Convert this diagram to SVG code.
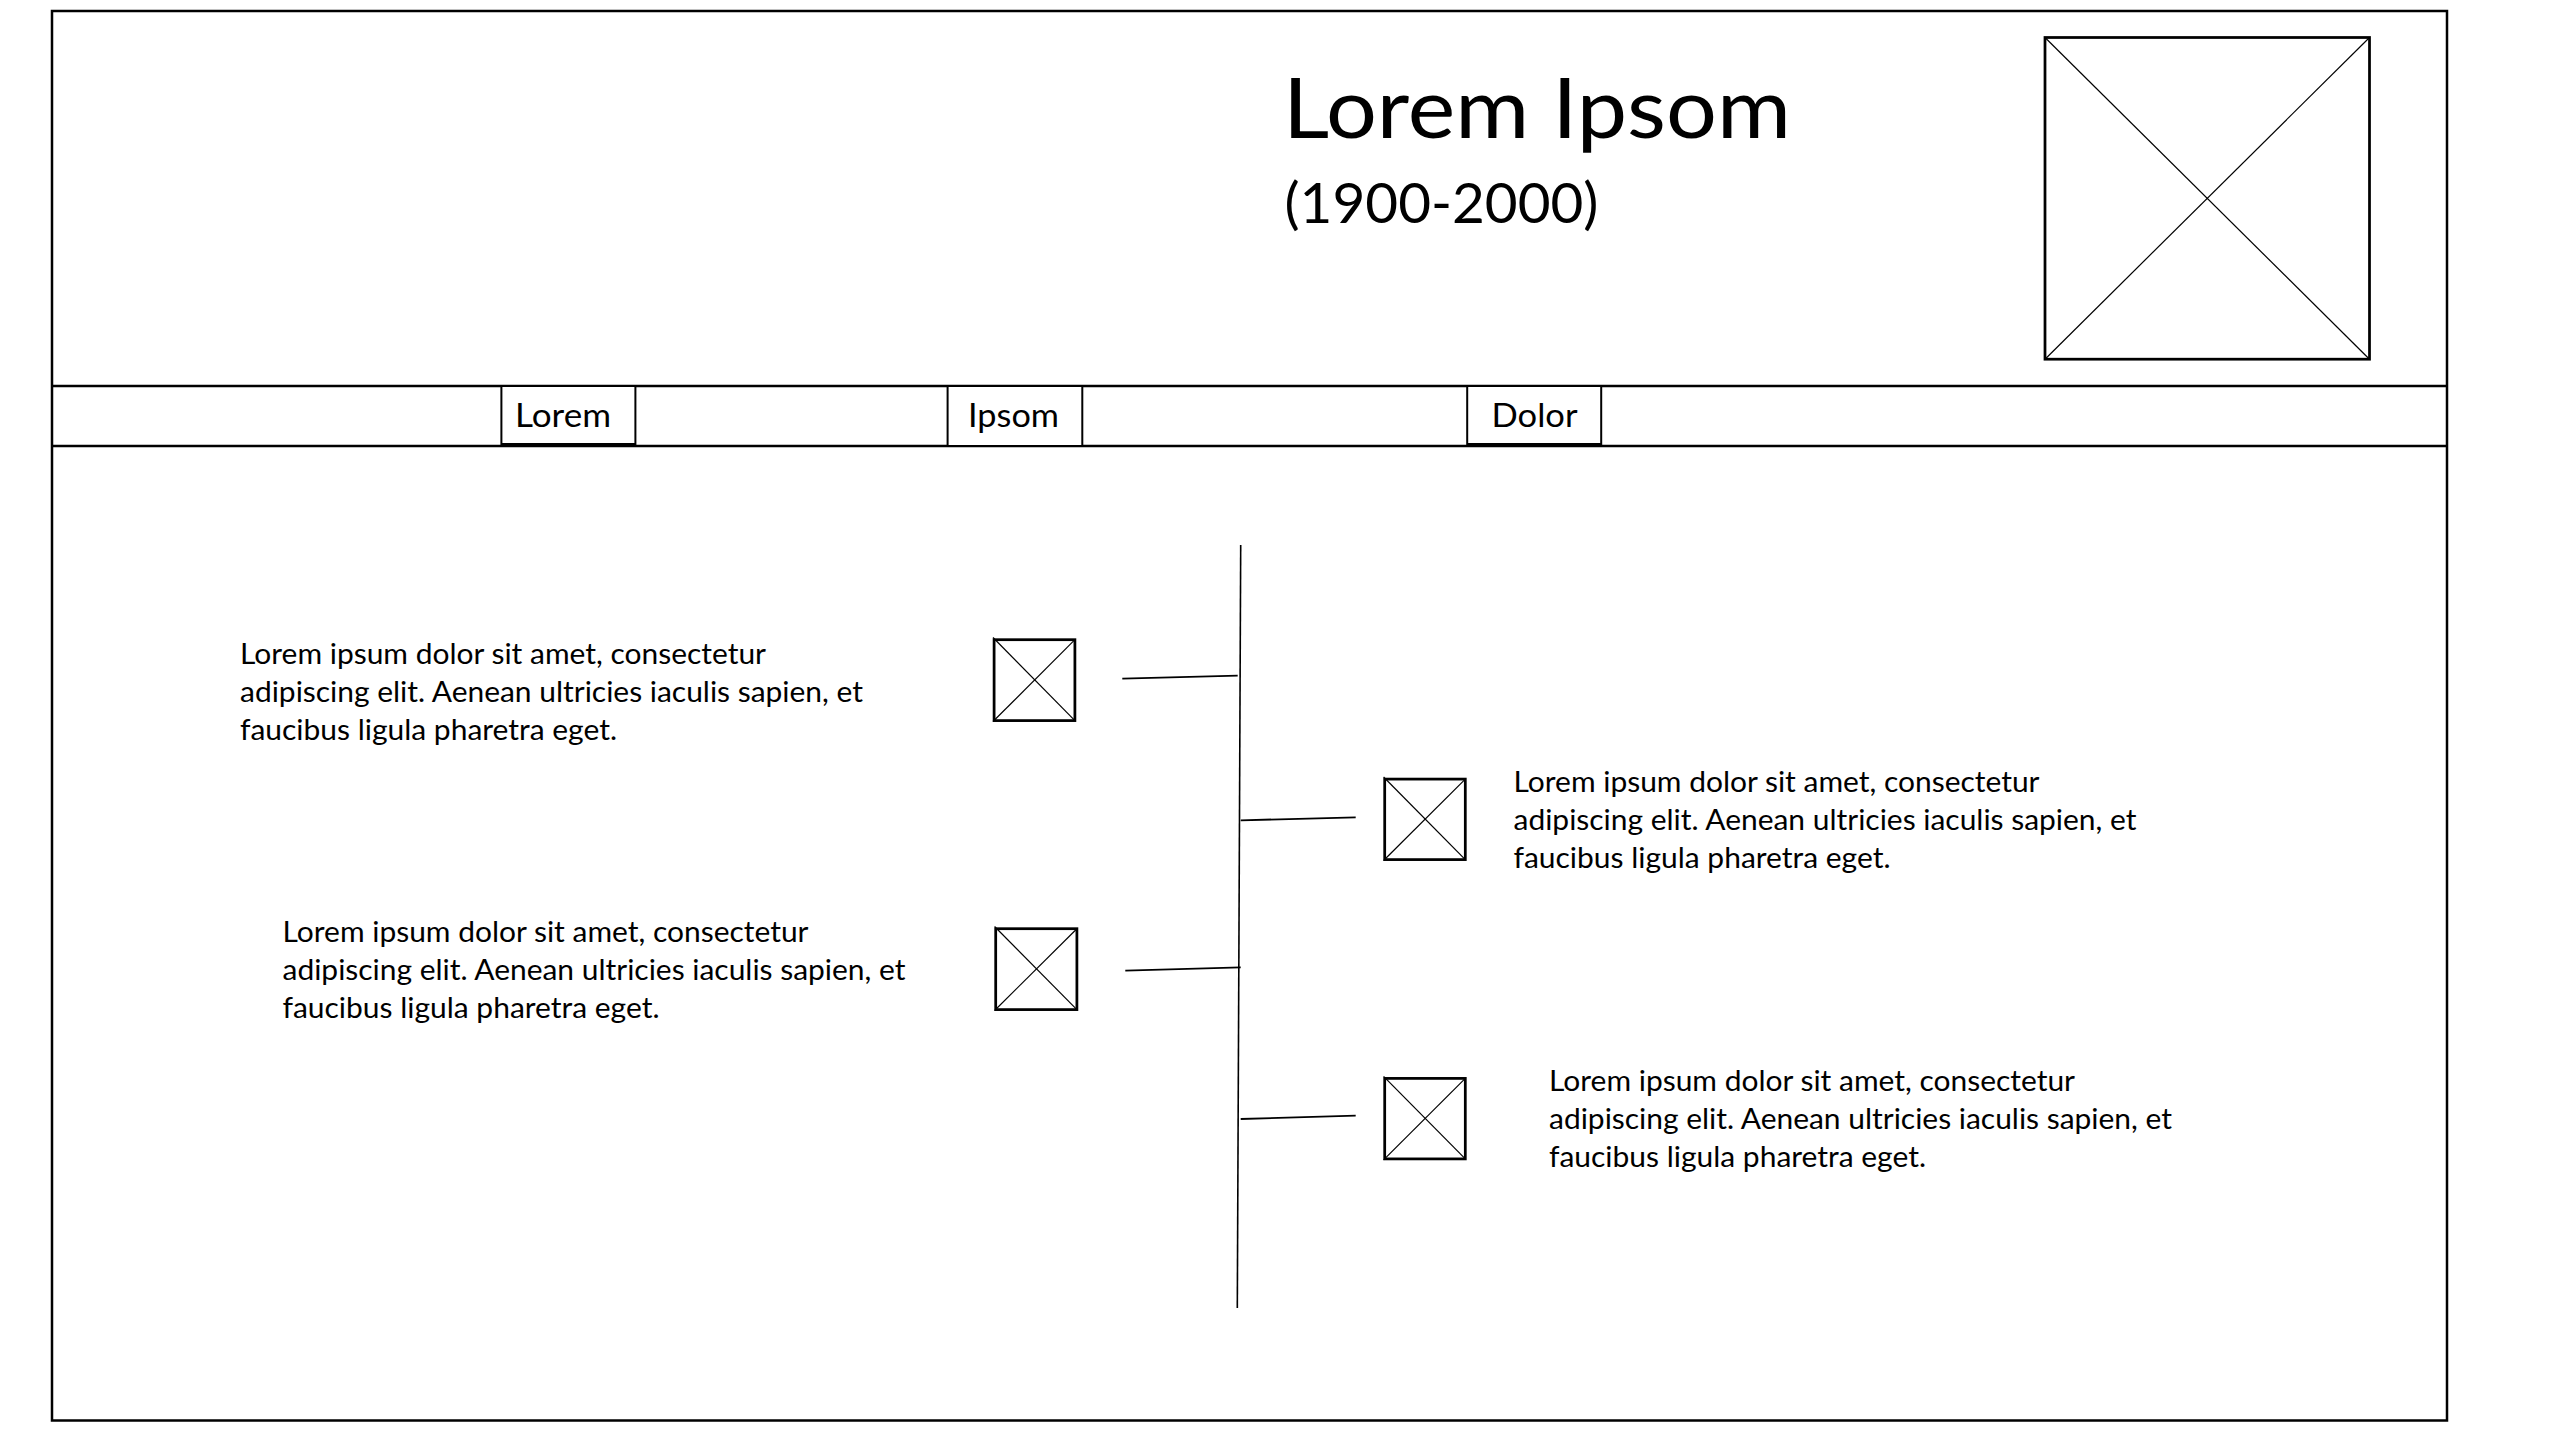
<svg xmlns="http://www.w3.org/2000/svg" width="2560" height="1440" viewBox="0 0 2560 1440">
<style>
.line{fill:none;stroke:#000;stroke-width:2.5}
.tab{fill:#fff;stroke:#000;stroke-width:2}
.box{fill:#fff;stroke:#000;stroke-width:2.75}
.diag{stroke:#000;stroke-width:1.2;fill:none}
.conn{stroke:#000;stroke-width:1.8;fill:none;stroke-linecap:butt}
text{font-family:Lato,"Open Sans","Liberation Sans",sans-serif;fill:#000}
.title{font-size:83px}
.sub{font-size:57px}
.tabt{font-size:32px}
.body{font-size:28.5px}
</style>
<rect width="2560" height="1440" fill="#fff"/>
<g id="frame">
  <rect class="line" x="52" y="11" width="2395" height="1409.5"/>
  <line class="line" x1="52" y1="386" x2="2447" y2="386"/>
  <line class="line" x1="52" y1="446" x2="2447" y2="446"/>
</g>
<g id="header">
  <text class="title" x="1283" y="137.7" textLength="508" lengthAdjust="spacingAndGlyphs">Lorem Ipsom</text>
  <text class="sub" x="1284.5" y="222.7" textLength="314" lengthAdjust="spacingAndGlyphs">(1900-2000)</text>
</g>
<g id="portrait">
  <rect class="box" x="2045" y="37.5" width="324.5" height="321.7"/>
  <line class="diag" x1="2045" y1="37.5" x2="2369.5" y2="359.2"/>
  <line class="diag" x1="2369.5" y1="37.5" x2="2045" y2="359.2"/>
</g>
<g id="tab-lorem">
  <rect class="tab" x="501.4" y="386" width="134" height="58"/>
  <text class="tabt" x="515" y="427" textLength="96" lengthAdjust="spacingAndGlyphs">Lorem</text>
</g>
<g id="tab-ipsom">
  <rect class="tab" x="947.6" y="386" width="134.7" height="60"/>
  <text class="tabt" x="968" y="427" textLength="91" lengthAdjust="spacingAndGlyphs">Ipsom</text>
</g>
<g id="tab-dolor">
  <rect class="tab" x="1467.2" y="386" width="134" height="58"/>
  <text class="tabt" x="1491.5" y="427" textLength="86" lengthAdjust="spacingAndGlyphs">Dolor</text>
</g>
<g id="connectors">
  <line class="conn" x1="1240.7" y1="545" x2="1237.3" y2="1308" style="stroke-width:1.6"/>
  <line class="conn" x1="1122.3" y1="678.7" x2="1237.7" y2="675.7"/>
  <line class="conn" x1="1240.7" y1="820.3" x2="1355.7" y2="817.3"/>
  <line class="conn" x1="1125.3" y1="970.7" x2="1240.7" y2="967.3"/>
  <line class="conn" x1="1240.7" y1="1119" x2="1355.7" y2="1115.7"/>
</g>
<g id="event-1">
  <rect class="box" x="994.1" y="639.7" width="80.8" height="80.9"/>
  <line class="diag" x1="993" y1="637.5" x2="1074.9" y2="720.6"/>
  <line class="diag" x1="1074.9" y1="639.7" x2="993" y2="721.5"/>
  <text class="body" x="240" y="664.3"><tspan x="240" textLength="526" lengthAdjust="spacingAndGlyphs">Lorem ipsum dolor sit amet, consectetur</tspan><tspan x="240" y="702.3" textLength="623" lengthAdjust="spacingAndGlyphs">adipiscing elit. Aenean ultricies iaculis sapien, et</tspan><tspan x="240" y="740.3" textLength="377" lengthAdjust="spacingAndGlyphs">faucibus ligula pharetra eget.</tspan></text>
</g>
<g id="event-2">
  <rect class="box" x="1384.7" y="779.1" width="80.6" height="80.5"/>
  <line class="diag" x1="1383.6" y1="777" x2="1465.3" y2="859.6"/>
  <line class="diag" x1="1465.3" y1="779.1" x2="1383.6" y2="860.5"/>
  <text class="body" x="1513.5" y="791.5"><tspan x="1513.5" textLength="526" lengthAdjust="spacingAndGlyphs">Lorem ipsum dolor sit amet, consectetur</tspan><tspan x="1513.5" y="829.5" textLength="623" lengthAdjust="spacingAndGlyphs">adipiscing elit. Aenean ultricies iaculis sapien, et</tspan><tspan x="1513.5" y="867.5" textLength="377" lengthAdjust="spacingAndGlyphs">faucibus ligula pharetra eget.</tspan></text>
</g>
<g id="event-3">
  <rect class="box" x="995.7" y="928.7" width="81.2" height="80.9"/>
  <line class="diag" x1="994.6" y1="926.5" x2="1076.9" y2="1009.6"/>
  <line class="diag" x1="1076.9" y1="928.7" x2="994.6" y2="1010.5"/>
  <text class="body" x="282.5" y="941.5"><tspan x="282.5" textLength="526" lengthAdjust="spacingAndGlyphs">Lorem ipsum dolor sit amet, consectetur</tspan><tspan x="282.5" y="979.5" textLength="623" lengthAdjust="spacingAndGlyphs">adipiscing elit. Aenean ultricies iaculis sapien, et</tspan><tspan x="282.5" y="1017.5" textLength="377" lengthAdjust="spacingAndGlyphs">faucibus ligula pharetra eget.</tspan></text>
</g>
<g id="event-4">
  <rect class="box" x="1384.7" y="1078.4" width="80.6" height="80.5"/>
  <line class="diag" x1="1383.6" y1="1076.3" x2="1465.3" y2="1158.9"/>
  <line class="diag" x1="1465.3" y1="1078.4" x2="1383.6" y2="1159.8"/>
  <text class="body" x="1549" y="1091"><tspan x="1549" textLength="526" lengthAdjust="spacingAndGlyphs">Lorem ipsum dolor sit amet, consectetur</tspan><tspan x="1549" y="1129" textLength="623" lengthAdjust="spacingAndGlyphs">adipiscing elit. Aenean ultricies iaculis sapien, et</tspan><tspan x="1549" y="1167" textLength="377" lengthAdjust="spacingAndGlyphs">faucibus ligula pharetra eget.</tspan></text>
</g>
</svg>
